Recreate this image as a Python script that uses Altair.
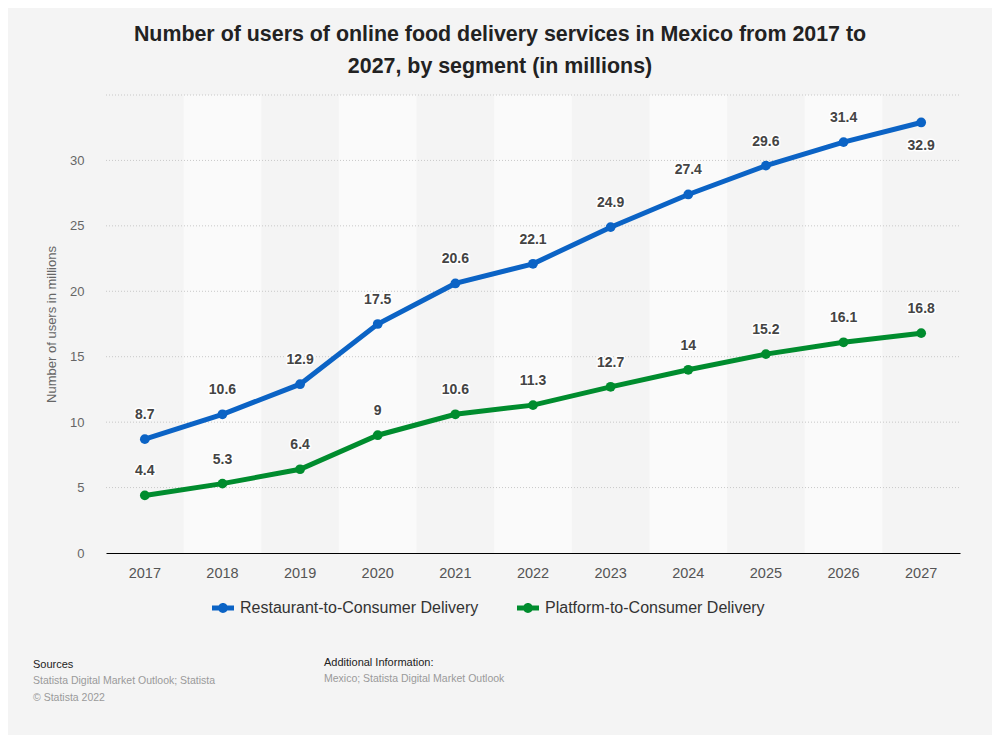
import altair as alt
import pandas as pd

years = [str(y) for y in range(2017, 2028)]
restaurant = [8.7, 10.6, 12.9, 17.5, 20.6, 22.1, 24.9, 27.4, 29.6, 31.4, 32.9]
platform = [4.4, 5.3, 6.4, 9, 10.6, 11.3, 12.7, 14, 15.2, 16.1, 16.8]
series_names = ["Restaurant-to-Consumer Delivery", "Platform-to-Consumer Delivery"]
colors = ["#0b63c5", "#008c2e"]
y_ticks = [0, 5, 10, 15, 20, 25, 30, 35]

title_lines = ["Number of users of online food delivery services in Mexico from 2017 to",
               "2027, by segment (in millions)"]
y_title = "Number of users in millions"
footer = [
    {"text": "Sources", "col": 0, "row": 0, "kind": "head"},
    {"text": "Statista Digital Market Outlook; Statista", "col": 0, "row": 1, "kind": "body"},
    {"text": "\u00a9 Statista 2022", "col": 0, "row": 2, "kind": "body"},
    {"text": "Additional Information:", "col": 1, "row": 0, "kind": "head"},
    {"text": "Mexico; Statista Digital Market Outlook", "col": 1, "row": 1, "kind": "body"},
]

rows = []
for name, vals in zip(series_names, [restaurant, platform]):
    for y, v in zip(years, vals):
        rows.append({"year": y, "series": name, "value": v})
df = pd.DataFrame(rows)
bands = pd.DataFrame({"year": years[1::2]})
grid = pd.DataFrame({"v": y_ticks[1:]})

W, H = 854, 458
FONT = "Liberation Sans"

xscale = alt.Scale(type="band", domain=years, paddingInner=0, paddingOuter=0)
xaxis = alt.Axis(domainColor="#000000", domainWidth=1, ticks=False, grid=False,
                 labelFont=FONT, labelFontSize=14.5, labelColor="#555555",
                 labelPadding=13, zindex=1, labelAngle=0)
xs = alt.X("year:N", scale=xscale, axis=xaxis, title=None)
yscale = alt.Scale(domain=[0, 35], nice=False, zero=True)
yaxis = alt.Axis(values=y_ticks, grid=False, domain=False, ticks=False,
                 labelFont=FONT, labelFontSize=13, labelColor="#666666",
                 labelPadding=22,
                 labelExpr="datum.value == 35 ? '' : datum.label",
                 titleFont=FONT, titleFontSize=13, titleColor="#666666",
                 titleFontWeight="normal", titlePadding=11)
ys = alt.Y("value:Q", scale=yscale, axis=yaxis, title=y_title)

sym = "M-1,-0.23H1V0.23H-1Z M0.45,0A0.45,0.45,0,1,1,-0.45,0A0.45,0.45,0,1,1,0.45,0Z"
legend = alt.Legend(title=None, orient="none", direction="horizontal",
                    legendX=106, legendY=502, symbolType=sym,
                    symbolSize=484, symbolStrokeWidth=0,
                    labelFont=FONT, labelFontSize=16, labelColor="#333333",
                    labelOffset=6, labelLimit=500, columnPadding=38, padding=0)
color = alt.Color("series:N", scale=alt.Scale(domain=series_names, range=colors), legend=legend)

band_layer = alt.Chart(bands).mark_rect(color="#fafafa").encode(
    x=xs, y=alt.value(0), y2=alt.value(H))

grid_layer = alt.Chart(grid).mark_rule(color="#c8c8c8", strokeDash=[1, 2], strokeWidth=1).encode(
    y=alt.Y("v:Q", scale=yscale, axis=yaxis, title=y_title),
    x=alt.value(0), x2=alt.value(W))

line_layer = alt.Chart(df).mark_line(strokeWidth=5).encode(x=xs, y=ys, color=color)
pt_layer = alt.Chart(df).mark_point(filled=True, size=95, opacity=1).encode(x=xs, y=ys, color=color)

last_cond = "datum.year == '2027' && datum.series == 'Restaurant-to-Consumer Delivery'"
base_lab = alt.Chart(df).encode(x=xs, y=ys, text=alt.Text("value:Q"))
lab_kw = dict(font=FONT, fontSize=14, fontWeight="bold", baseline="middle", align="center")
halo_up = base_lab.transform_filter("!(" + last_cond + ")").mark_text(
    dy=-24, stroke="#ffffff", strokeWidth=3, strokeJoin="round", color="#ffffff", **lab_kw)
text_up = base_lab.transform_filter("!(" + last_cond + ")").mark_text(
    dy=-24, color="#444444", **lab_kw)
halo_dn = base_lab.transform_filter(last_cond).mark_text(
    dy=24, stroke="#ffffff", strokeWidth=3, strokeJoin="round", color="#ffffff", **lab_kw)
text_dn = base_lab.transform_filter(last_cond).mark_text(
    dy=24, color="#444444", **lab_kw)

fdf = pd.DataFrame(footer)
foot_head = alt.Chart(fdf).transform_filter("datum.kind == 'head'").transform_calculate(
    px="datum.col == 0 ? -73 : 218", py="570 + datum.row * 17 - datum.col * 2"
).mark_text(font=FONT, fontSize=11, color="#222222", align="left", baseline="middle").encode(
    x=alt.X("px:Q", scale=None), y=alt.Y("py:Q", scale=None), text="text:N")
foot_body = alt.Chart(fdf).transform_filter("datum.kind == 'body'").transform_calculate(
    px="datum.col == 0 ? -73 : 218", py="569 + datum.row * 17 - datum.col * 2"
).mark_text(font=FONT, fontSize=10.5, color="#9a9a9a", align="left", baseline="middle").encode(
    x=alt.X("px:Q", scale=None), y=alt.Y("py:Q", scale=None), text="text:N")

chart = alt.layer(band_layer, grid_layer, line_layer, pt_layer,
                  halo_up, text_up, halo_dn, text_dn, foot_head, foot_body).properties(
    width=W, height=H,
    background="#f4f4f4",
    padding={"left": 98, "top": 87, "right": 32, "bottom": 182},
    autosize=alt.AutoSizeParams(type="none"),
    title=alt.TitleParams(title_lines, font=FONT, fontSize=21.4, fontWeight="bold",
                          color="#222222", anchor="middle", frame="group", dx=-33,
                          offset=17, lineHeight=32),
).configure_view(strokeWidth=0)

chart.save("out.html", embed_options={"renderer": "svg", "actions": False})
